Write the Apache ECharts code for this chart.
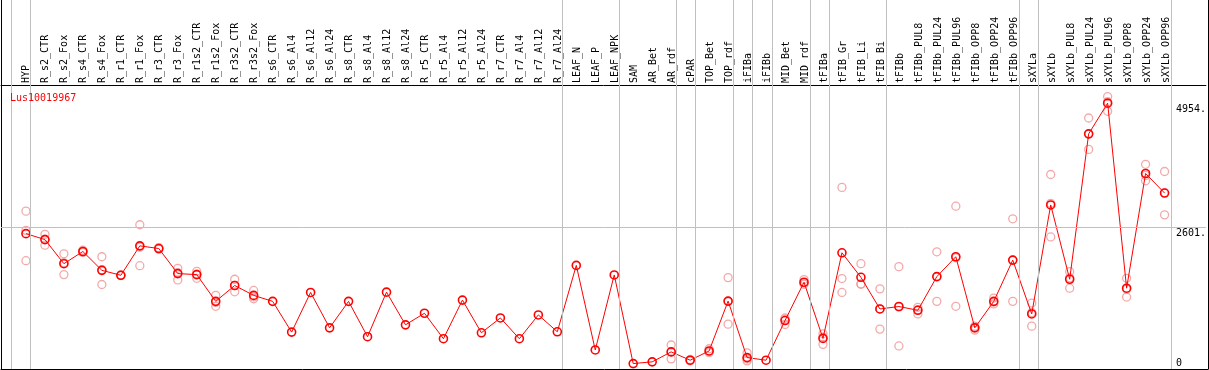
<!DOCTYPE html>
<html><head><meta charset="utf-8">
<script src="https://cdn.jsdelivr.net/npm/echarts@6/dist/echarts.min.js"></script>
<style>html,body{margin:0;padding:0;background:#fff}#c{width:1209px;height:370px}</style>
</head><body><div id="c"></div>
<script>
const chartTitle = 'Lus10019967';
const categories = ['HYP','R_s2_CTR','R_s2_Fox','R_s4_CTR','R_s4_Fox','R_r1_CTR','R_r1_Fox','R_r3_CTR','R_r3_Fox','R_r1s2_CTR','R_r1s2_Fox','R_r3s2_CTR','R_r3s2_Fox','R_s6_CTR','R_s6_Al4','R_s6_Al12','R_s6_Al24','R_s8_CTR','R_s8_Al4','R_s8_Al12','R_s8_Al24','R_r5_CTR','R_r5_Al4','R_r5_Al12','R_r5_Al24','R_r7_CTR','R_r7_Al4','R_r7_Al12','R_r7_Al24','LEAF_N','LEAF_P','LEAF_NPK','SAM','AR_Bet','AR_rdf','cPAR','TOP_Bet','TOP_rdf','iFIBa','iFIBb','MID_Bet','MID_rdf','tFIBa','tFIB_Gr','tFIB_Li','tFIB_Bi','tFIBb','tFIBb_PUL8','tFIBb_PUL24','tFIBb_PUL96','tFIBb_OPP8','tFIBb_OPP24','tFIBb_OPP96','sXYLa','sXYLb','sXYLb_PUL8','sXYLb_PUL24','sXYLb_PUL96','sXYLb_OPP8','sXYLb_OPP24','sXYLb_OPP96'];
const means = [2476,2363,1905,2137,1779,1685,2244,2193,1717,1698,1190,1491,1303,1190,606,1359,687,1190,518,1365,744,964,480,1214,593,875,480,932,612,1873,267,1691,8,41,230,72,248,1195,122,72,825,1553,486,2112,1647,1045,1092,1020,1660,2037,687,1190,1973,951,3021,1610,4371,4954,1440,3618,3247];
const rep1 = [2903,2463,2093,2160,2037,1690,2645,2210,1817,1760,1303,1610,1397,null,null,null,null,null,null,null,null,null,null,null,null,null,null,null,null,null,null,null,null,null,361,85,290,1641,211,null,875,1604,574,3354,1905,1427,1849,1077,2131,2997,719,1252,2758,1158,3599,1754,4672,5080,1628,3793,3656];
const rep2 = [2538,2256,1698,2120,1510,1680,1867,2180,1597,1628,1096,1371,1239,null,null,null,null,null,null,null,null,null,null,null,null,null,null,null,null,null,null,null,null,null,98,60,215,757,60,null,750,1540,373,1623,1521,663,343,951,1190,1096,644,1177,1190,719,2413,1440,4076,4800,1271,3479,2833];
const rep3 = [1962,2370,1924,2130,1790,1685,2220,2190,1737,1706,1171,1492,1273,null,null,null,null,null,null,null,null,null,null,null,null,null,null,null,null,null,null,null,null,null,231,72,240,1187,95,null,850,1515,511,1359,1515,1045,1084,1032,1659,2018,698,1141,1971,976,3051,1636,4365,4982,1421,3582,3252];
const groupEnds = [-1,0,28,31,34,35,37,38,39,41,42,45,52,53,60];
const yLabels = [0,2601,4954];

const FONT = 'DejaVu Sans Mono';
const X_MIN = -1.315, X_MAX = 62.178;
const SEP_OFFSET = 0.23;
const GRAY = '#c0c0c0';
const noAxis = {axisLine:{show:false},axisTick:{show:false},axisLabel:{show:false},splitLine:{show:false}};
const blackLine = {show:true,onZero:false,lineStyle:{color:'#000',width:1}};

const reps = [];
[rep1,rep2,rep3].forEach(arr => arr.forEach((v,i) => { if (v !== null) reps.push([i, v]); }));

const chart = echarts.init(document.getElementById('c'), null, {renderer:'canvas'});
chart.setOption({
  animation:false,
  backgroundColor:'#fff',
  title:{text:chartTitle,left:10,top:93,padding:0,textStyle:{color:'#f00',fontSize:10,fontWeight:'normal',fontFamily:FONT}},
  grid:[
    {left:1,right:1,top:85,bottom:1},
    {left:1,right:1,top:0,bottom:1},
    {left:26,right:42.4,top:85,bottom:1}
  ],
  xAxis:[
    Object.assign({gridIndex:0,type:'value',min:X_MIN,max:X_MAX,position:'top'},noAxis,{axisLine:blackLine}),
    Object.assign({gridIndex:1,type:'value',min:X_MIN,max:X_MAX,position:'bottom'},noAxis,{axisLine:blackLine}),
    {gridIndex:2,type:'category',data:categories,boundaryGap:false,position:'top',
     axisLine:{show:false},axisTick:{show:false},splitLine:{show:false},
     axisLabel:{interval:0,rotate:90,margin:2,fontSize:10,fontFamily:FONT,color:'#000'}}
  ],
  yAxis:[
    {gridIndex:0,type:'value',min:-47,max:5299,position:'right',
     axisLine:{show:false},axisTick:{show:false},splitLine:{show:false},
     axisLabel:{customValues:yLabels,inside:true,margin:30,align:'left',fontSize:10,fontFamily:FONT,color:'#000',
       formatter:v => v === 0 ? '{b|0}' : '{t|' + v + '.}',
       rich:{t:{padding:[12,0,0,0],lineHeight:10,fontSize:10,fontFamily:FONT,color:'#000'},
             b:{padding:[0,0,2,0],lineHeight:10,fontSize:10,fontFamily:FONT,color:'#000'}}}},
    Object.assign({gridIndex:1,type:'value',min:0,max:1,position:'left'},noAxis,{axisLine:blackLine}),
    Object.assign({gridIndex:1,type:'value',min:0,max:1,position:'right'},noAxis,{axisLine:blackLine}),
    Object.assign({gridIndex:2,type:'value',min:0,max:1,show:false},noAxis)
  ],
  series:[
    {type:'line',xAxisIndex:1,yAxisIndex:1,data:[],silent:true,z:1,
     markLine:{symbol:'none',silent:true,animation:false,label:{show:false},
       lineStyle:{color:GRAY,width:1,type:'solid'},emphasis:{disabled:true},
       data:groupEnds.map(i => ({xAxis:i+SEP_OFFSET}))}},
    {type:'line',xAxisIndex:0,yAxisIndex:0,data:[],silent:true,z:1,
     markLine:{symbol:'none',silent:true,animation:false,label:{show:false},
       lineStyle:{color:GRAY,width:1,type:'solid'},emphasis:{disabled:true},
       data:[{yAxis:yLabels[1]}]}},
    {type:'scatter',xAxisIndex:0,yAxisIndex:0,data:reps,symbol:'circle',symbolSize:8,z:2,
     itemStyle:{color:'rgba(0,0,0,0)',borderColor:'#f09494',borderWidth:1.3}},
    {type:'line',xAxisIndex:0,yAxisIndex:0,data:means.map((v,i) => [i,v]),z:3,
     symbol:'circle',symbolSize:8,showSymbol:true,showAllSymbol:true,
     lineStyle:{color:'#f00',width:1},
     itemStyle:{color:'rgba(255,0,0,0)',borderColor:'#f00',borderWidth:1.6}}
  ]
});
</script>
</body></html>
